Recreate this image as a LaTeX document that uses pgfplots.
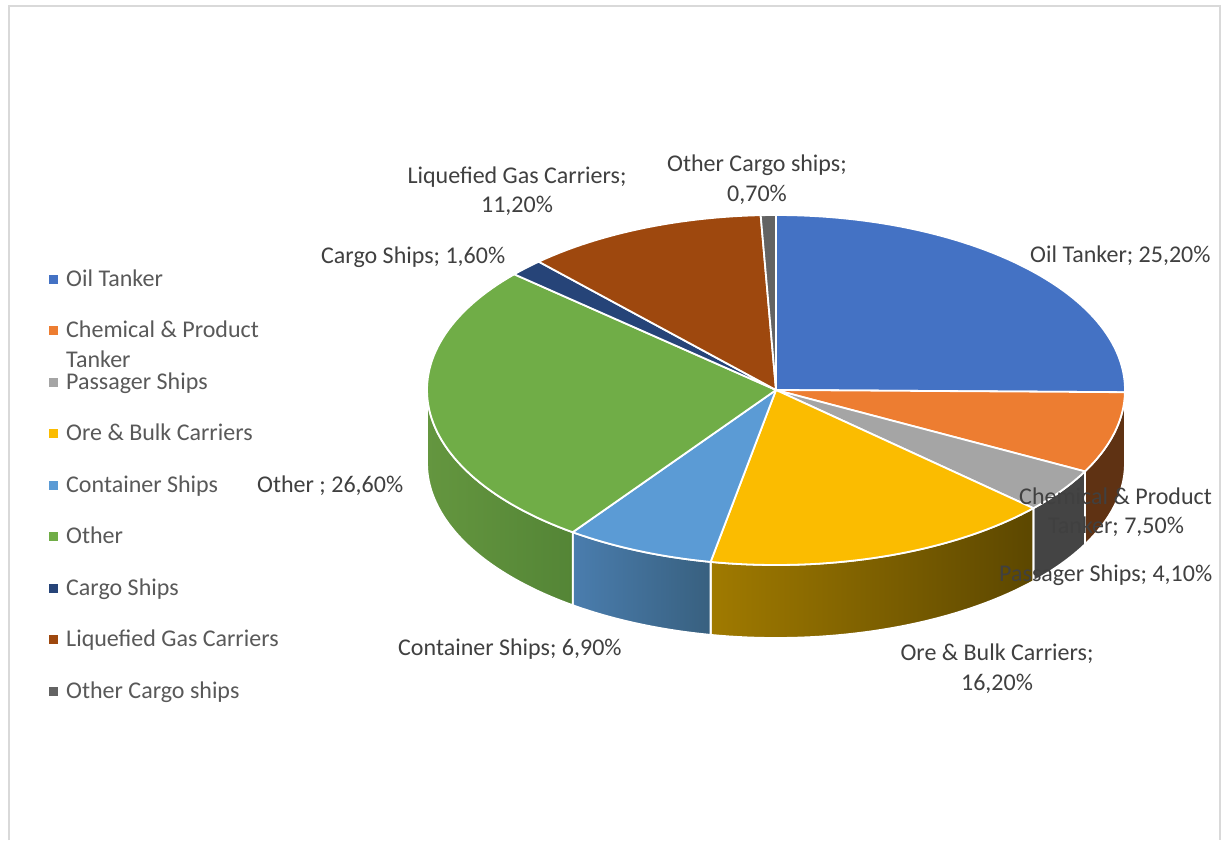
\documentclass[border=0pt]{standalone}
\usepackage{pgfplots}
\usepackage{pgfplotstable}
\usepackage{fontspec}
\setmainfont{Carlito}
\pgfplotsset{compat=1.18}

% Slice colours: top face, then left and right ends of the wall gradient
\definecolor{oil}{HTML}{4472C4}     \definecolor{oilL}{HTML}{2F5597}  \definecolor{oilR}{HTML}{2F5597}
\definecolor{chem}{HTML}{ED7D31}    \definecolor{chemL}{HTML}{5F3213} \definecolor{chemR}{HTML}{5F3213}
\definecolor{pass}{HTML}{A5A5A5}    \definecolor{passL}{HTML}{444444} \definecolor{passR}{HTML}{444444}
\definecolor{ore}{HTML}{FBBC00}     \definecolor{oreL}{HTML}{A07A00}  \definecolor{oreR}{HTML}{5C4700}
\definecolor{cont}{HTML}{5B9BD5}    \definecolor{contL}{HTML}{4A7DAE} \definecolor{contR}{HTML}{38607F}
\definecolor{other}{HTML}{70AD47}   \definecolor{otherL}{HTML}{64963F}\definecolor{otherR}{HTML}{548536}
\definecolor{cargo}{HTML}{264478}   \definecolor{cargoL}{HTML}{264478}\definecolor{cargoR}{HTML}{264478}
\definecolor{lng}{HTML}{9E480E}     \definecolor{lngL}{HTML}{9E480E}  \definecolor{lngR}{HTML}{9E480E}
\definecolor{ocargo}{HTML}{636363}  \definecolor{ocargoL}{HTML}{636363}\definecolor{ocargoR}{HTML}{636363}
\definecolor{labeltext}{HTML}{404040}
\definecolor{legendtext}{HTML}{595959}
\definecolor{frame}{HTML}{D9D9D9}

% Fleet shares in percent, clockwise from twelve o'clock
\pgfplotstableread{
share  key
25.2   oil
7.5    chem
4.1    pass
16.2   ore
6.9    cont
26.6   other
1.6    cargo
11.2   lng
0.7    ocargo
}\shares

% Ellipse of the pie's top face, and the height of its wall
\def\cx{776}\def\cy{390}\def\rx{349}\def\ry{175}\def\depth{73}

% Appends to \pts the arc between two angles (degrees clockwise from the top)
\newcommand\appendarc[3]{%
  \pgfmathtruncatemacro\nseg{max(2,ceil(abs(#2-#1)/1.5))}%
  \foreach \i in {0,...,\nseg}{%
    \pgfmathsetmacro\tt{#1+(#2-#1)*\i/\nseg}%
    \pgfmathsetmacro\px{\cx+\rx*sin(\tt)}%
    \pgfmathsetmacro\py{\cy+#3-\ry*cos(\tt)}%
    \xdef\pts{\pts (\px,\py)}%
  }%
}

\newcommand\lab[3][]{\node[anchor=base west,inner sep=0pt,text=labeltext,#1] at (axis cs:#2) {#3};}
\newcommand\clab[2]{\node[anchor=base,inner sep=0pt,text=labeltext] at (axis cs:#1) {#2};}
\pgfplotsset{swatch/.style={only marks,mark=square*,mark size=4pt,color=#1,mark options={draw=#1,fill=#1,line width=0pt}}}

\begin{document}
\begin{tikzpicture}
\path[use as bounding box,fill=white] (0,0) rectangle (1222pt,840pt);
\begin{axis}[
  at={(0,0)},anchor=south west,
  width=1222pt,height=840pt,scale only axis,
  xmin=0,xmax=1222,ymin=0,ymax=840,y dir=reverse,
  hide axis,clip=false,
  font=\fontsize{24}{28}\selectfont,
]
% Outer frame, open at the bottom
\draw[frame,line width=2pt] (axis cs:8.5,840) -- (axis cs:8.5,6) -- (axis cs:1219.5,6) -- (axis cs:1219.5,840);

% Walls of the front half, from the same shares as the top faces
\gdef\cum{0}
\pgfplotsforeachungrouped \r in {0,...,8}{%
  \pgfplotstablegetelem{\r}{share}\of\shares \let\val\pgfplotsretval
  \pgfplotstablegetelem{\r}{key}\of\shares \let\key\pgfplotsretval
  \pgfmathsetmacro\aa{max(3.6*\cum,90)}%
  \pgfmathsetmacro\bb{min(3.6*(\cum+\val),270)}%
  \pgfmathparse{\aa<\bb ? 1 : 0}%
  \ifnum\pgfmathresult>0
    \gdef\pts{}%
    \appendarc{\aa}{\bb}{0}%
    \appendarc{\bb}{\aa}{\depth}%
    \edef\temp{\noexpand\addplot[draw=white,line width=1.8pt,left color=\key L,right color=\key R,line join=round] coordinates {\pts} -- cycle;}%
    \temp
  \fi
  \pgfmathsetmacro\next{\cum+\val}\xdef\cum{\next}%
}

% Top faces
\gdef\cum{0}
\pgfplotsforeachungrouped \r in {0,...,8}{%
  \pgfplotstablegetelem{\r}{share}\of\shares \let\val\pgfplotsretval
  \pgfplotstablegetelem{\r}{key}\of\shares \let\key\pgfplotsretval
  \pgfmathsetmacro\aa{3.6*\cum}%
  \pgfmathsetmacro\bb{3.6*(\cum+\val)}%
  \xdef\pts{(\cx,\cy)}%
  \appendarc{\aa}{\bb}{0}%
  \edef\temp{\noexpand\addplot[draw=white,line width=1.8pt,fill=\key,line join=round] coordinates {\pts} -- cycle;}%
  \temp
  \pgfmathsetmacro\next{\cum+\val}\xdef\cum{\next}%
}

% Legend swatches and entries
\addplot[swatch=oil]    coordinates {(53,279)};
\addplot[swatch=chem]   coordinates {(53,330.5)};
\addplot[swatch=pass]   coordinates {(53,382)};
\addplot[swatch=ore]    coordinates {(53,433.5)};
\addplot[swatch=cont]   coordinates {(53,485)};
\addplot[swatch=other]  coordinates {(53,536.5)};
\addplot[swatch=cargo]  coordinates {(53,588)};
\addplot[swatch=lng]    coordinates {(53,639.5)};
\addplot[swatch=ocargo] coordinates {(53,691)};
\lab[text=legendtext]{66,286}{Oil Tanker}
\lab[text=legendtext]{66,337.5}{Chemical \& Product}
\lab[text=legendtext]{66,367}{Tanker}
\lab[text=legendtext]{66,389}{Passager Ships}
\lab[text=legendtext]{66,440.5}{Ore \& Bulk Carriers}
\lab[text=legendtext]{66,492}{Container Ships}
\lab[text=legendtext]{66,543.5}{Other}
\lab[text=legendtext]{66,595}{Cargo Ships}
\lab[text=legendtext]{66,646.5}{Liquef{}ied Gas Carriers}
\lab[text=legendtext]{66,698}{Other Cargo ships}

% Data labels
\lab{1030,262}{Oil Tanker; 25,20\%}
\lab{1019,504}{Chemical \& Product}
\clab{1116,533}{Tanker; 7,50\%}
\lab{999,581}{Passager Ships; 4,10\%}
\clab{997,660}{Ore \& Bulk Carriers;}
\clab{997,690}{16,20\%}
\lab{398,655}{Container Ships; 6,90\%}
\lab{257,492}{Other ; 26,60\%}
\lab{321,263}{Cargo Ships; 1,60\%}
\clab{517,183}{Liquef{}ied Gas Carriers;}
\clab{517,212}{11,20\%}
\clab{757,171}{Other Cargo ships;}
\clab{757,201}{0,70\%}
\end{axis}
\end{tikzpicture}
\end{document}
